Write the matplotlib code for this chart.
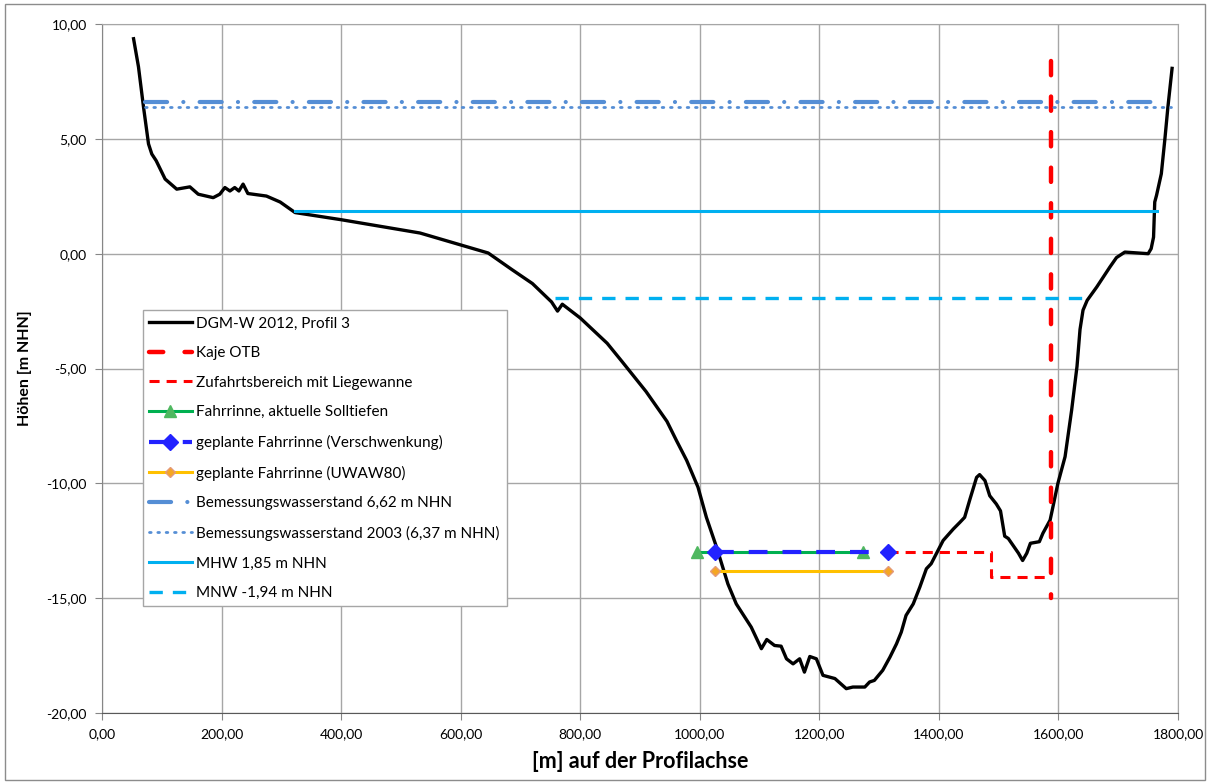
import matplotlib
matplotlib.use("Agg")
from matplotlib import pyplot as plt
from matplotlib.patches import Rectangle
from matplotlib.ticker import FuncFormatter, MultipleLocator

plt.rcParams["font.family"] = ["Lato", "DejaVu Sans"]

# Gelaendeprofil DGM-W 2012, Profil 3
profil_x = [52.8, 61, 69.4, 77.8, 83.3, 90.6, 105.6, 125, 147, 161, 186, 197, 205.6,
            214, 222, 229, 236, 244, 275, 298, 323, 400, 532, 646, 685, 720, 752,
            762, 770, 800, 845, 870, 910, 945, 961, 978, 997, 1011, 1028, 1047,
            1061, 1086, 1103, 1112, 1125, 1136, 1145, 1156, 1167, 1175, 1184,
            1195, 1206, 1226, 1245, 1256, 1276, 1284, 1292, 1306, 1318, 1329,
            1337, 1345, 1357, 1368, 1379, 1387, 1407, 1424, 1435, 1443, 1452,
            1463, 1468, 1477, 1485, 1496, 1503, 1510, 1516, 1533, 1540, 1547,
            1553, 1568, 1574, 1586, 1599, 1611, 1622, 1631, 1636, 1641, 1648,
            1664, 1686, 1697, 1711, 1750, 1755, 1759, 1761, 1764, 1772, 1778,
            1783, 1790]
profil_y = [9.36, 8.14, 6.39, 4.78, 4.34, 4.05, 3.25, 2.81, 2.91, 2.59, 2.44, 2.59, 2.88,
            2.73, 2.88, 2.73, 3.03, 2.62, 2.51, 2.25, 1.79, 1.48, 0.90, 0.03, -0.68,
            -1.30, -2.10, -2.50, -2.20, -2.80, -3.90, -4.70, -6.00, -7.30, -8.14,
            -9.00, -10.17, -11.48, -12.78, -14.38, -15.25, -16.26, -17.20, -16.80,
            -17.06, -17.09, -17.64, -17.86, -17.64, -18.22, -17.54, -17.64, -18.36,
            -18.50, -18.94, -18.87, -18.87, -18.65, -18.58, -18.14, -17.57, -16.99,
            -16.48, -15.75, -15.25, -14.52, -13.72, -13.50, -12.49, -11.99, -11.70,
            -11.48, -10.68, -9.74, -9.62, -9.88, -10.54, -10.90, -11.20, -12.30,
            -12.40, -13.04, -13.36, -13.04, -12.61, -12.54, -12.17, -11.60, -10.00,
            -8.84, -6.81, -4.90, -3.30, -2.46, -2.03, -1.45, -0.58, -0.17, 0.07,
            0.00, 0.22, 0.72, 2.25, 2.54, 3.48, 5.00, 6.38, 8.07]

kaje_x = [1588, 1588]
kaje_y = [8.4, -15.0]

zufahrt_x = [1315, 1487, 1487, 1588]
zufahrt_y = [-13.0, -13.0, -14.09, -14.09]

fahrrinne_x = [995, 1273]
fahrrinne_y = [-13.0, -13.0]

verschwenkung_x = [1025, 1315]
verschwenkung_y = [-13.0, -13.0]

uwaw80_x = [1025, 1315]
uwaw80_y = [-13.8, -13.8]

bws_x = [72, 1778]
bws_y = [6.62, 6.62]

bws2003_x = [72, 1789]
bws2003_y = [6.37, 6.37]

mhw_x = [323, 1764]
mhw_y = [1.85, 1.85]

mnw_x = [758, 1651]
mnw_y = [-1.94, -1.94]


def de_format(value, pos):
    return f"{value:.2f}".replace(".", ",")


fig = plt.figure(figsize=(12.1, 7.83), dpi=100)
fig.patches.append(Rectangle((0.004, 0.004), 0.992, 0.991, transform=fig.transFigure,
                             fill=False, edgecolor="#8c8c8c", linewidth=1))
ax = fig.add_axes([0.0843, 0.0894, 0.8893, 0.8799])

ax.plot(profil_x, profil_y, color="black", linewidth=2.4,
        label="DGM-W 2012, Profil 3")
ax.plot(kaje_x, kaje_y, color="#ff0000", linewidth=3.2, linestyle=(0, (3.2, 4.8)),
        dash_capstyle="round", label="Kaje OTB")
ax.plot(zufahrt_x, zufahrt_y, color="#ff0000", linewidth=2.2, linestyle=(0, (3.3, 2.3)),
        label="Zufahrtsbereich mit Liegewanne")
ax.plot(fahrrinne_x, fahrrinne_y, color="#00b050", linewidth=2.2, marker="^",
        markersize=9, markerfacecolor="#4fb860", markeredgecolor="#4fb860",
        label="Fahrrinne, aktuelle Solltiefen")
ax.plot(verschwenkung_x, verschwenkung_y, color="#2222ff", linewidth=3.0,
        linestyle=(0, (4.5, 3.6)), marker="D", markersize=8, markerfacecolor="#2222ff",
        markeredgecolor="#2222ff", label="geplante Fahrrinne (Verschwenkung)")
ax.plot(uwaw80_x, uwaw80_y, color="#ffc000", linewidth=2.2, marker="D",
        markersize=5, markerfacecolor="#f5a623", markeredgecolor="#e39a7a",
        label="geplante Fahrrinne (UWAW80)")
ax.plot(bws_x, bws_y, color="#558ed5", linewidth=3.0,
        linestyle=(0, (5.3, 3.9, 0.01, 3.9)), dash_capstyle="round",
        label="Bemessungswasserstand 6,62 m NHN")
ax.plot(bws2003_x, bws2003_y, color="#558ed5", linewidth=2.0,
        linestyle=(0, (0.6, 2.4)), dash_capstyle="round",
        label="Bemessungswasserstand 2003 (6,37 m NHN)")
ax.plot(mhw_x, mhw_y, color="#00b0f0", linewidth=2.2, label="MHW 1,85 m NHN")
ax.plot(mnw_x, mnw_y, color="#00b0f0", linewidth=2.4, linestyle=(0, (4, 3)),
        label="MNW -1,94 m NHN")

ax.set_xlim(0, 1800)
ax.set_ylim(-20, 10)
ax.xaxis.set_major_locator(MultipleLocator(200))
ax.yaxis.set_major_locator(MultipleLocator(5))
ax.xaxis.set_major_formatter(FuncFormatter(de_format))
ax.yaxis.set_major_formatter(FuncFormatter(de_format))
ax.grid(True, color="#a6a6a6", linewidth=1)
ax.set_axisbelow(True)
ax.tick_params(labelsize=10, direction="out", length=5, color="#868686", pad=6)
for side in ["top", "right"]:
    ax.spines[side].set_color("#a6a6a6")
ax.spines["left"].set_color("#868686")
ax.spines["bottom"].set_color("#595959")

ax.set_xlabel("[m] auf der Profilachse", fontsize=15.5, fontweight="bold", labelpad=8)
ax.set_ylabel("Höhen [m NHN]", fontsize=11.5, fontweight="bold", labelpad=10)

leg = fig.legend(loc="upper left", bbox_to_anchor=(0.118, 0.2235, 0.301, 0.38),
                 mode="expand", fontsize=11, handlelength=2.8, labelspacing=1.02,
                 borderaxespad=0, fancybox=False, framealpha=1, handletextpad=0.3)
leg.get_frame().set_edgecolor("#a6a6a6")
leg.get_frame().set_linewidth(1)

fig.savefig("out.png", dpi=100)
